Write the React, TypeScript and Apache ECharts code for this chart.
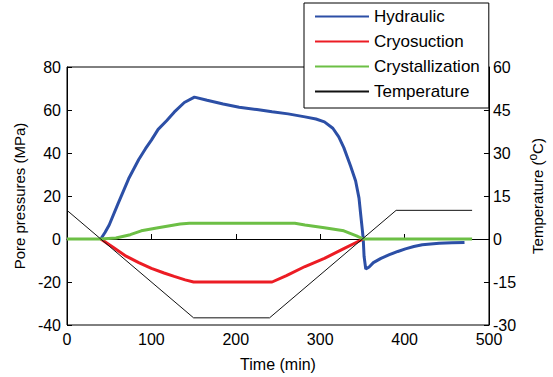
import React, { useEffect, useRef } from "react";
import * as echarts from "echarts";

// Time axis (min) and values
const hydraulicTime = [40, 45, 50, 60, 73, 85, 93, 100, 108, 118, 127, 139, 151, 166, 185, 204, 225, 243, 262, 282, 295, 305, 315, 322, 328, 336, 342, 346, 348, 350, 351, 352, 354, 358, 363, 372, 382, 392, 401, 411, 421, 441, 456, 471];
const hydraulicMPa = [0, 3, 6.5, 16, 28, 37, 42, 46, 51, 55, 59, 63.5, 66, 64.5, 62.8, 61.3, 60.2, 59.2, 58.2, 56.8, 55.8, 54.5, 51.5, 47.5, 42.5, 34, 27, 19, 11.4, 4, 0, -8, -14, -13, -11, -9, -7.3, -5.8, -4.6, -3.5, -2.7, -2, -1.8, -1.6];

const cryoTime = [40, 55, 70, 85, 100, 115, 127, 140, 150, 243, 260, 282, 305, 328, 351];
const cryoMPa = [0, -4, -8, -11, -13.7, -15.8, -17.4, -19, -20, -20, -17, -12.8, -9, -4.5, 0];

const crystTime = [0, 40, 58, 75, 88, 108, 134, 145, 270, 282, 305, 328, 343, 351, 480];
const crystMPa = [0, 0, 0.5, 2, 3.8, 5.2, 7, 7.3, 7.3, 6.5, 5.2, 3.8, 1.5, 0, 0];

const tempTime = [0, 40, 150, 240, 390, 480];
const tempC = [10, 0, -27.5, -27.5, 10, 10];

const xTicks = { min: 0, max: 500, interval: 100 };
const leftTicks = { min: -40, max: 80, interval: 20 };
const rightTicks = { min: -30, max: 60, interval: 15 };

const zip = (xs: number[], ys: number[]) => xs.map((x, i) => [x, ys[i]]);

const FONT = "'Liberation Sans', Arial, sans-serif";

export default function App() {
  const ref = useRef<HTMLDivElement>(null);
  useEffect(() => {
    const chart = echarts.init(ref.current!, null, { renderer: "svg" });
    const axisCommon = {
      axisLine: { show: true, lineStyle: { color: "#000", width: 1 } },
      axisTick: { show: true, inside: true, length: 5, lineStyle: { color: "#000" } },
      splitLine: { show: false },
      axisLabel: { color: "#000", fontSize: 16, fontFamily: FONT, margin: 6 },
      nameTextStyle: { color: "#000", fontSize: 16, fontFamily: FONT },
    };
    chart.setOption({
      animation: false,
      backgroundColor: "#fff",
      grid: { left: 67, right: 54, top: 67, bottom: 46, show: true, borderColor: "#000", borderWidth: 1 },
      legend: {
        orient: "vertical",
        left: 304,
        top: 3,
        padding: [5, 9, 8, 10],
        itemWidth: 54,
        itemHeight: 17,
        itemGap: 8,
        backgroundColor: "#fff",
        borderColor: "#000",
        borderWidth: 1,
        borderRadius: 0,
        itemStyle: { opacity: 0 },
        textStyle: { color: "#000", fontSize: 17, fontFamily: FONT, lineHeight: 17 },
        data: ["Hydraulic", "Cryosuction", "Crystallization", "Temperature"],
        z: 10,
      },
      xAxis: {
        type: "value",
        ...xTicks,
        name: "Time (min)",
        nameLocation: "middle",
        nameGap: 31,
        ...axisCommon,
      },
      yAxis: [
        {
          type: "value",
          ...leftTicks,
          name: "Pore pressures (MPa)",
          nameLocation: "middle",
          nameRotate: 90,
          nameGap: 35,
          ...axisCommon,
          nameTextStyle: { color: "#000", fontSize: 15, fontFamily: FONT },
        },
        {
          type: "value",
          position: "right",
          ...rightTicks,
          name: "{a|Temperature (}{b|o}{a|C)}",
          nameLocation: "middle",
          nameRotate: 90,
          nameGap: 34,
          ...axisCommon,
          axisLabel: { ...axisCommon.axisLabel, margin: 4 },
          nameTextStyle: {
            color: "#000",
            fontSize: 15,
            fontFamily: FONT,
            rich: {
              a: { color: "#000", fontSize: 15, fontFamily: FONT },
              b: { color: "#000", fontSize: 12, fontFamily: FONT, padding: [0, 0, 9, 0] },
            },
          },
        },
      ],
      series: [
        {
          name: "Hydraulic",
          type: "line",
          yAxisIndex: 0,
          symbol: "none",
          data: zip(hydraulicTime, hydraulicMPa),
          lineStyle: { color: "#2c4fa6", width: 3 },
          itemStyle: { color: "#2c4fa6" },
        },
        {
          name: "Cryosuction",
          type: "line",
          yAxisIndex: 0,
          symbol: "none",
          data: zip(cryoTime, cryoMPa),
          lineStyle: { color: "#ec1c24", width: 3 },
          itemStyle: { color: "#ec1c24" },
        },
        {
          name: "Crystallization",
          type: "line",
          yAxisIndex: 0,
          symbol: "none",
          data: zip(crystTime, crystMPa),
          lineStyle: { color: "#6cbf45", width: 3 },
          itemStyle: { color: "#6cbf45" },
        },
        {
          name: "Temperature",
          type: "line",
          yAxisIndex: 1,
          symbol: "none",
          data: zip(tempTime, tempC),
          lineStyle: { color: "#111", width: 1 },
          itemStyle: { color: "#111" },
        },
      ],
    });
    return () => chart.dispose();
  }, []);
  return <div ref={ref} style={{ position: "absolute", left: 0, top: 0, width: 553, height: 377 }} />;
}
